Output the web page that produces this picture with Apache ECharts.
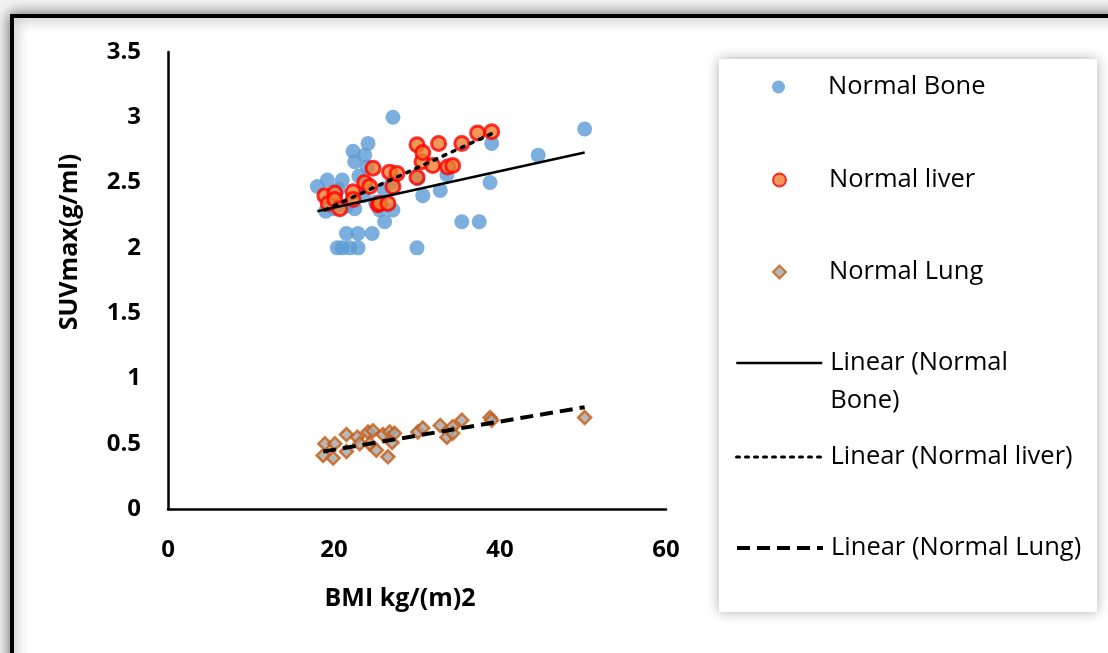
<!DOCTYPE html>
<html>
<head>
<meta charset="utf-8">
<title>SUVmax vs BMI</title>
<script src="https://cdn.jsdelivr.net/npm/echarts@6/dist/echarts.min.js"></script>
<style>
    html, body { margin: 0; padding: 0; background: #f4f4f4; }
    #chart { width: 1108px; height: 653px; }
</style>
</head>
<body>
<div id="chart"></div>
<script>
// BMI / SUVmax pairs
var boneData = [
    [18.0, 2.47], [19.0, 2.28], [19.2, 2.52], [20.0, 2.30], [20.5, 2.45], [21.0, 2.52],
    [21.5, 2.32], [22.3, 2.74], [22.5, 2.30], [22.5, 2.66], [23.0, 2.55], [23.5, 2.40],
    [23.7, 2.71], [24.0, 2.62], [24.1, 2.80], [25.0, 2.35], [25.5, 2.29], [26.0, 2.45],
    [26.1, 2.20], [27.0, 2.50], [27.1, 2.29], [27.1, 3.00],
    [20.4, 2.00], [21.0, 2.00], [21.5, 2.11], [21.9, 2.00], [22.9, 2.11], [22.9, 2.00],
    [24.6, 2.11], [30.0, 2.00], [30.1, 2.53], [30.7, 2.40], [32.8, 2.44], [33.6, 2.56],
    [35.4, 2.20], [37.5, 2.20], [38.8, 2.50], [39.0, 2.80], [44.6, 2.71], [50.2, 2.91]
];
var liverData = [
    [18.9, 2.40], [19.3, 2.34], [20.1, 2.42], [20.1, 2.37], [20.7, 2.30], [22.3, 2.43],
    [22.3, 2.37], [23.7, 2.50], [24.3, 2.47], [24.7, 2.61], [25.3, 2.33], [25.5, 2.34],
    [26.5, 2.34], [26.7, 2.58], [27.1, 2.47], [27.6, 2.57], [30.0, 2.79], [30.0, 2.54],
    [30.6, 2.66], [30.7, 2.73], [31.9, 2.63], [32.6, 2.80], [33.7, 2.62], [34.3, 2.63],
    [35.4, 2.80], [37.3, 2.88], [39.0, 2.89]
];
var lungData = [
    [18.7, 0.41], [18.9, 0.50], [19.9, 0.39], [20.1, 0.50], [21.5, 0.57], [21.5, 0.44],
    [22.8, 0.55], [23.1, 0.50], [24.1, 0.59], [24.3, 0.50], [24.7, 0.60], [25.1, 0.45],
    [25.9, 0.57], [26.5, 0.40], [26.7, 0.59], [27.0, 0.51], [27.3, 0.58], [30.1, 0.59],
    [30.7, 0.62], [32.8, 0.64], [33.6, 0.55], [34.3, 0.63], [34.3, 0.58], [35.4, 0.68],
    [38.8, 0.70], [39.0, 0.68], [50.2, 0.70]
];
// trendline end points as drawn
var boneTrend = [[18.0, 2.28], [50.2, 2.73]];
var liverTrend = [[18.9, 2.29], [39.2, 2.88]];
var lungTrend = [[18.7, 0.44], [50.2, 0.78]];

var xTicks = { min: 0, max: 60, step: 20 };
var yTicks = { min: 0, max: 3.5, step: 0.5 };

var font = 'Open Sans';
var myChart = echarts.init(document.getElementById('chart'));

function oneLegend(name, top, icon) {
    var lg = {
        data: [name],
        top: top,
        padding: 0,
        selectedMode: false,
        textStyle: {
            fontFamily: font,
            fontSize: 25.5,
            color: '#000',
            lineHeight: 38
        }
    };
    if (icon == 'dot') {
        lg.left = 772;
        lg.itemWidth = 13;
        lg.itemHeight = 13;
        lg.textStyle.padding = [0, 0, 0, 38];
    } else {
        lg.left = 735;
        lg.itemWidth = 86;
        lg.itemHeight = 14;
        lg.textStyle.padding = [0, 0, 0, 3];
        lg.lineStyle = icon;
        lg.itemStyle = { opacity: 0 }; // no marker on the trendline keys
    }
    return lg;
}

var legends = [
    oneLegend('Normal Bone', 68, 'dot'),
    oneLegend('Normal liver', 161, 'dot'),
    oneLegend('Normal Lung', 253, 'dot'),
    oneLegend('Linear (Normal Bone)', 306, { color: '#000', width: 2.5, type: 'solid' }),
    oneLegend('Linear (Normal liver)', 438, { color: '#000', width: 3, type: [3, 6], cap: 'round' }),
    oneLegend('Linear (Normal Lung)', 529, { color: '#000', width: 4, type: [13, 7] })
];
// the wrapped entry keeps its key on the first row (blank line above centres it)
legends[3].formatter = function () { return '\nLinear (Normal\nBone)'; };

option = {
    backgroundColor: '#f4f4f4',
    animation: false,
    graphic: [
        {
            type: 'rect',
            z: -10,
            shape: { x: 12, y: 16, width: 1200, height: 700 },
            style: {
                fill: '#fff',
                stroke: '#000',
                lineWidth: 4,
                shadowBlur: 14,
                shadowColor: 'rgba(0,0,0,0.55)'
            }
        },
        {
            type: 'rect',
            z: -9,
            shape: { x: 719, y: 59, width: 378, height: 553 },
            style: {
                fill: '#fff',
                shadowBlur: 12,
                shadowColor: 'rgba(0,0,0,0.32)'
            }
        }
    ],
    legend: legends,
    grid: {
        left: 168,
        right: 442,
        top: 52,
        bottom: 144
    },
    xAxis: {
        type: 'value',
        min: xTicks.min,
        max: xTicks.max,
        interval: xTicks.step,
        name: 'BMI kg/(m)2',
        nameLocation: 'middle',
        nameGap: 77,
        nameTextStyle: {
            fontFamily: font,
            fontSize: 25,
            fontWeight: 'bold',
            color: '#000',
            padding: [0, 34, 0, 0]
        },
        splitLine: { show: false },
        axisTick: { show: false },
        axisLine: { lineStyle: { color: '#000', width: 2.5 } },
        axisLabel: {
            fontFamily: font,
            fontSize: 24,
            fontWeight: 'bold',
            color: '#000',
            margin: 29
        }
    },
    yAxis: {
        type: 'value',
        min: yTicks.min,
        max: yTicks.max,
        interval: yTicks.step,
        name: 'SUVmax(g/ml)',
        nameLocation: 'middle',
        nameGap: 86,
        nameTextStyle: {
            fontFamily: font,
            fontSize: 25,
            fontWeight: 'bold',
            color: '#000',
            padding: [0, 0, 0, 77]
        },
        splitLine: { show: false },
        axisTick: { show: false },
        axisLine: { show: true, lineStyle: { color: '#000', width: 2.5 } },
        axisLabel: {
            fontFamily: font,
            fontSize: 24,
            fontWeight: 'bold',
            color: '#000',
            margin: 27
        }
    },
    series: [
        {
            name: 'Normal Bone',
            type: 'scatter',
            symbol: 'circle',
            symbolSize: 15,
            itemStyle: { color: '#5B9BD5' },
            data: boneData
        },
        {
            name: 'Normal liver',
            type: 'scatter',
            symbol: 'circle',
            symbolSize: 14,
            itemStyle: { color: '#ED7D31', borderColor: '#FF0000', borderWidth: 3 },
            data: liverData
        },
        {
            name: 'Normal Lung',
            type: 'scatter',
            symbol: 'diamond',
            symbolSize: 13,
            itemStyle: { color: '#A5A5A5', borderColor: '#C55A11', borderWidth: 2.5 },
            data: lungData
        },
        {
            name: 'Linear (Normal Bone)',
            type: 'line',
            symbol: 'none',
            silent: true,
            z: 5,
            lineStyle: { color: '#000', width: 2.5, type: 'solid' },
            data: boneTrend
        },
        {
            name: 'Linear (Normal liver)',
            type: 'line',
            symbol: 'none',
            silent: true,
            z: 5,
            lineStyle: { color: '#000', width: 3.5, type: [3, 7], cap: 'round' },
            data: liverTrend
        },
        {
            name: 'Linear (Normal Lung)',
            type: 'line',
            symbol: 'none',
            silent: true,
            z: 5,
            lineStyle: { color: '#000', width: 4, type: [13, 7] },
            data: lungTrend
        }
    ]
};
myChart.setOption(option);
</script>
</body>
</html>
